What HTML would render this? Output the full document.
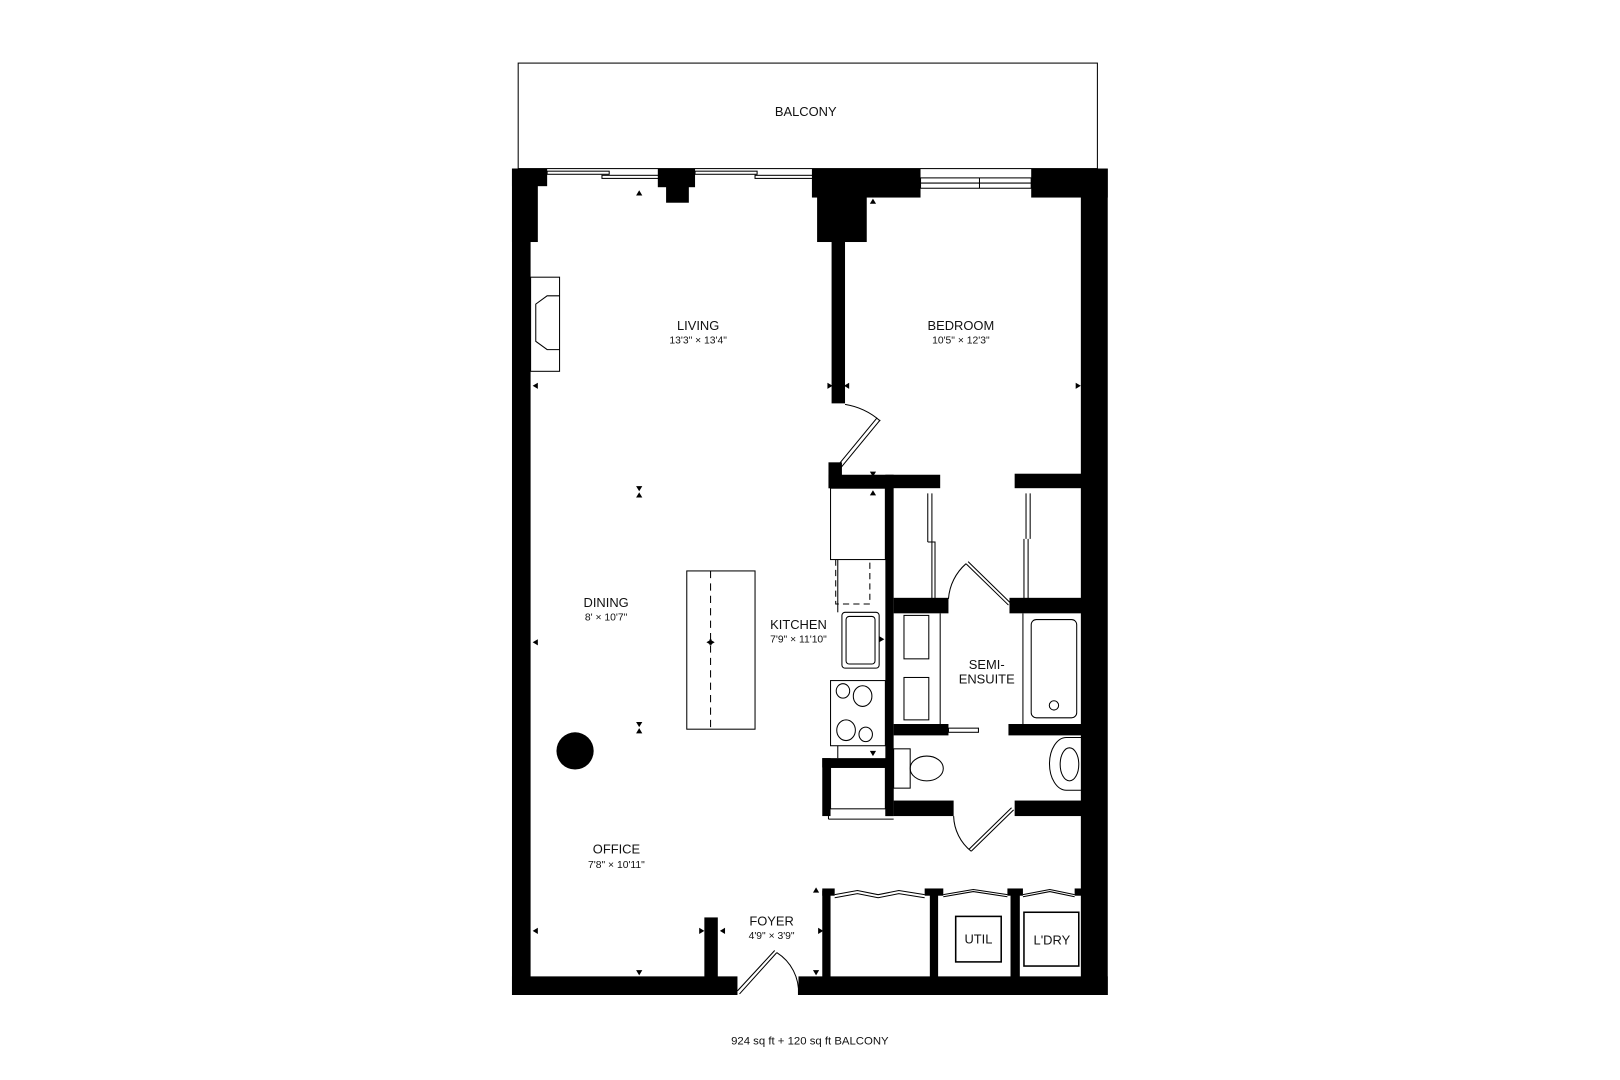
<!DOCTYPE html>
<html><head><meta charset="utf-8"><style>
html,body{margin:0;padding:0;background:#fff;}
svg{display:block;}
text{font-family:"Liberation Sans",sans-serif;fill:#111;text-anchor:middle;}
.l{font-size:12.5px;}
.d{font-size:10px;}
</style></head><body>
<svg width="1620" height="1080" viewBox="0 0 1560 1040" xmlns="http://www.w3.org/2000/svg">
<g transform="matrix(0.996,0,0,0.996,-1,-1)">
<g fill="none" stroke="#000" stroke-width="1">
<rect x="502" y="62" width="560" height="102"/>
</g>
<text class="l" x="780" y="113">BALCONY</text>
<g fill="#000">
<rect x="496" y="164" width="34" height="17"/>
<rect x="496" y="164" width="25" height="71"/>
<rect x="496" y="164" width="18" height="799"/>
<rect x="496" y="945" width="218" height="18"/>
<rect x="773" y="945" width="299" height="18"/>
<rect x="1046" y="164" width="26" height="799"/>
<rect x="998" y="164" width="74" height="28"/>
<rect x="637" y="164" width="36" height="18"/>
<rect x="645" y="164" width="22" height="33"/>
<rect x="786" y="164" width="105" height="28"/>
<rect x="791" y="164" width="48" height="71"/>
<rect x="805" y="164" width="13" height="227"/>
<rect x="682" y="888" width="13" height="75"/>
<rect x="802" y="448" width="13" height="25"/>
<rect x="802" y="460" width="108" height="13"/>
<rect x="982" y="459" width="67" height="14"/>
<rect x="857" y="460" width="8" height="330"/>
<rect x="865" y="579" width="53" height="15"/>
<rect x="977" y="579" width="72" height="15"/>
<rect x="865" y="701" width="53" height="11"/>
<rect x="976" y="701" width="73" height="11"/>
<rect x="865" y="775" width="58" height="15"/>
<rect x="982" y="775" width="67" height="15"/>
<rect x="796" y="734" width="69" height="9"/>
<rect x="796" y="734" width="8" height="56"/>
<rect x="857" y="734" width="8" height="56"/>
<rect x="796" y="862" width="8" height="85"/>
<rect x="900" y="862" width="8" height="85"/>
<rect x="978" y="862" width="9" height="85"/>
<rect x="796" y="860" width="12" height="7"/>
<rect x="895" y="860" width="18" height="7"/>
<rect x="975" y="860" width="15" height="7"/>
<rect x="1040" y="860" width="10" height="7"/>
<circle cx="557" cy="727" r="18"/>
</g>
<g fill="none" stroke="#000" stroke-width="1">
<rect x="530" y="166.5" width="60" height="3"/>
<rect x="583" y="170.5" width="55" height="3"/>
<rect x="673" y="166.5" width="60" height="3"/>
<rect x="731" y="170.5" width="56" height="3"/>
<rect x="891" y="173" width="107" height="10"/>
<line x1="891" y1="178" x2="998" y2="178"/>
<line x1="948" y1="173" x2="948" y2="183"/>
<rect x="514" y="269" width="28" height="91"/>
<polyline points="542,287 530,287 519,295 519,331 530,339 542,339"/>
<path d="M818,392 A68,68 0 0 1 852,408"/>
<path d="M852,407 L810,458 M849,405 L807,456"/>
<rect x="665" y="553" width="66" height="153"/>
<line x1="688" y1="553" x2="688" y2="706" stroke-dasharray="7,5"/>
<rect x="804" y="473" width="53" height="69"/>
<line x1="811" y1="542" x2="811" y2="593"/>
<path d="M809,542 V585 H842 V542" stroke-dasharray="6,4"/>
<rect x="815" y="593" width="36" height="54" rx="3"/>
<rect x="819" y="597" width="28" height="46" rx="3"/>
<rect x="804" y="659" width="53" height="63"/>
<ellipse cx="816" cy="669" rx="6.5" ry="7"/>
<ellipse cx="835" cy="674" rx="9" ry="10"/>
<ellipse cx="819" cy="707" rx="9" ry="10"/>
<ellipse cx="838" cy="711" rx="6.5" ry="7"/>
<line x1="811" y1="722" x2="811" y2="734"/>
<rect x="804" y="743" width="53" height="40"/>
<line x1="802" y1="793" x2="865" y2="793"/>
<line x1="802" y1="790" x2="802" y2="793"/>
<path d="M898,478 V525 M902,478 V525 M898,525 H902 V580 M902,525 H905 V580"/>
<path d="M993,478 V522 M997,478 V522 M991,522 V580 M995,522 V580"/>
<path d="M918,580 A50,50 0 0 1 935,546"/>
<path d="M935,546 L976,586 M937,544 L978,584"/>
<path d="M923,790 A45,45 0 0 0 940,824"/>
<path d="M940,824 L981,784 M938,822 L979,782"/>
<line x1="910" y1="594" x2="910" y2="701"/>
<rect x="875" y="596" width="24" height="42"/>
<rect x="875" y="656" width="24" height="41"/>
<rect x="918" y="705" width="29" height="4"/>
<line x1="990" y1="594" x2="990" y2="701"/>
<rect x="998" y="600" width="44" height="95" rx="5"/>
<circle cx="1020" cy="683" r="4.5"/>
<rect x="865" y="725" width="16" height="38"/>
<ellipse cx="897" cy="744" rx="16" ry="12"/>
<path d="M1049,714 H1032 A16,25 0 0 0 1032,765 H1049"/>
<ellipse cx="1035" cy="740" rx="9" ry="16"/>
<polyline points="808,866 830,862 850,866 870,862 895,866"/>
<polyline points="808,869 830,865 850,869 870,865 895,869"/>
<polyline points="913,866 942,861 975,866"/>
<polyline points="913,868 942,863 975,868"/>
<polyline points="990,866 1016,861 1040,866"/>
<polyline points="990,868 1016,863 1040,868"/>
<rect x="925" y="887" width="44" height="44" stroke-width="1.5"/>
<rect x="991" y="883" width="53" height="52" stroke-width="1.5"/>
<path d="M716,962 L752,922 M714,959 L750,920"/>
<path d="M752,922 A45,45 0 0 1 773,963"/>
</g>
<g fill="#000">
<polygon points="619,185 616,190 622,190"/>
<polygon points="845,193 842,198 848,198"/>
<polygon points="516,374 521,371 521,377"/>
<polygon points="806,374 801,371 801,377"/>
<polygon points="817,374 822,371 822,377"/>
<polygon points="1046,374 1041,371 1041,377"/>
<polygon points="619,476 616,471 622,471"/>
<polygon points="619,477 616,482 622,482"/>
<polygon points="845,462 842,457 848,457"/>
<polygon points="845,475 842,480 848,480"/>
<polygon points="516,622 521,619 521,625"/>
<polygon points="856,619 851,616 851,622"/>
<polygon points="684,622 689,619 689,625"/>
<polygon points="692,622 687,619 687,625"/>
<polygon points="619,704 616,699 622,699"/>
<polygon points="619,705 616,710 622,710"/>
<polygon points="845,732 842,727 848,727"/>
<polygon points="516,901 521,898 521,904"/>
<polygon points="682,901 677,898 677,904"/>
<polygon points="697,901 702,898 702,904"/>
<polygon points="797,901 792,898 792,904"/>
<polygon points="619,944 616,939 622,939"/>
<polygon points="790,859 787,864 793,864"/>
<polygon points="790,944 787,939 793,939"/>
</g>
<text class="l" x="676" y="320">LIVING</text>
<text class="d" x="676" y="333">13'3" × 13'4"</text>
<text class="l" x="930" y="320">BEDROOM</text>
<text class="d" x="930" y="333">10'5" × 12'3"</text>
<text class="l" x="587" y="588">DINING</text>
<text class="d" x="587" y="601">8' × 10'7"</text>
<text class="l" x="773" y="609">KITCHEN</text>
<text class="d" x="773" y="622">7'9" × 11'10"</text>
<text class="l" x="955" y="648">SEMI-</text>
<text class="l" x="955" y="662">ENSUITE</text>
<text class="l" x="597" y="826">OFFICE</text>
<text class="d" x="597" y="840">7'8" × 10'11"</text>
<text class="l" x="747" y="896">FOYER</text>
<text class="d" x="747" y="909">4'9" × 3'9"</text>
<text class="l" x="947" y="913">UTIL</text>
<text class="l" x="1018" y="914">L'DRY</text>
<text class="d" x="784" y="1011" style="font-size:11px">924 sq ft + 120 sq ft BALCONY</text>
</g>
</svg>
</body></html>
